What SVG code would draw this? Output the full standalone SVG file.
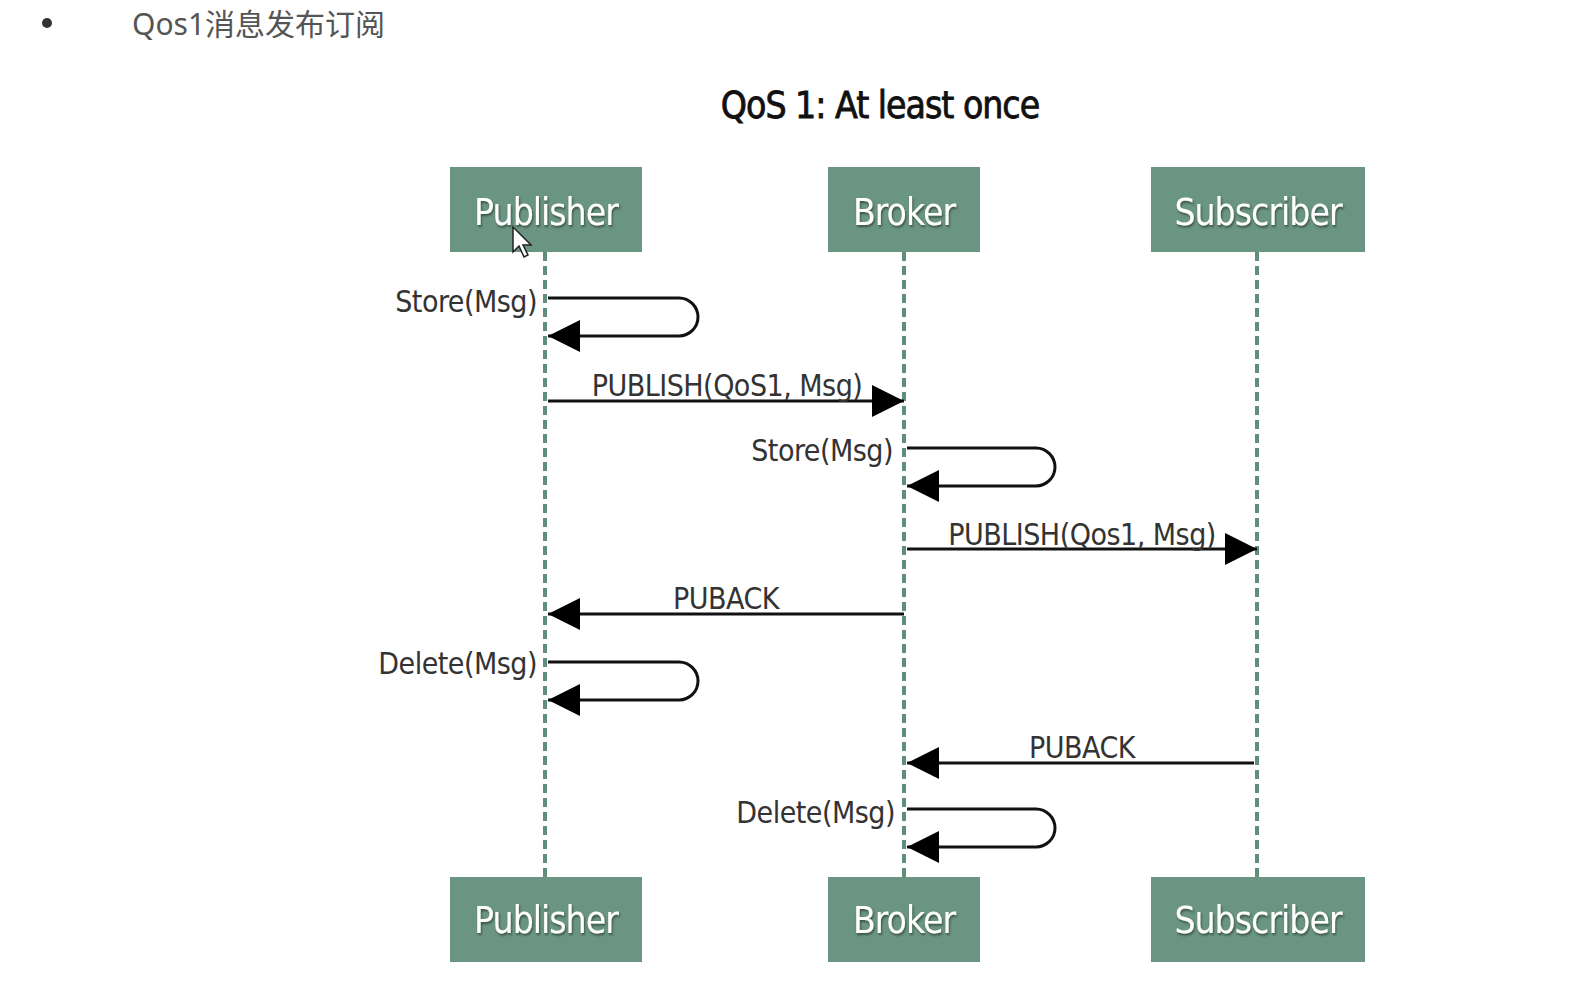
<svg xmlns="http://www.w3.org/2000/svg" width="1578" height="992" viewBox="0 0 1578 992">
<style>
.box{fill:#6a9582;}
.bt{font-family:"DejaVu Sans Condensed","DejaVu Sans",sans-serif;font-size:37px;fill:#ffffff;text-anchor:middle;letter-spacing:-1px;}
.life{stroke:#5f8f7c;stroke-width:4;stroke-dasharray:9 5;fill:none;}
.msg{stroke:#111;stroke-width:3;fill:none;}
.lbl{font-family:"DejaVu Sans Condensed","DejaVu Sans",sans-serif;font-size:30px;fill:#333;letter-spacing:-0.5px;}
</style>
<defs>
<marker id="ah" viewBox="0 0 32 32" refX="32" refY="16" markerWidth="32" markerHeight="32" markerUnits="userSpaceOnUse" orient="auto">
<path d="M0,0 L32,16 L0,32 Z" fill="#000"/>
</marker>
<filter id="sh" x="-10%" y="-10%" width="120%" height="130%">
<feDropShadow dx="1" dy="2" stdDeviation="1" flood-color="#000" flood-opacity="0.45"/>
</filter>
</defs>
<rect width="1578" height="992" fill="#ffffff"/>
<circle cx="47" cy="23" r="5" fill="#333"/>
<text x="132" y="35" font-family="'Noto Sans','Noto Sans CJK SC',sans-serif" font-size="30" fill="#555">Qos1消息发布订阅</text>
<text x="880" y="118" font-family="'DejaVu Sans Condensed','DejaVu Sans',sans-serif" font-size="37" fill="#111" text-anchor="middle" letter-spacing="-1" stroke="#111" stroke-width="0.8">QoS 1: At least once</text>
<g id="lifelines">
<line class="life" x1="545" y1="252" x2="545" y2="877"/>
<line class="life" x1="904" y1="252" x2="904" y2="877"/>
<line class="life" x1="1257" y1="252" x2="1257" y2="877"/>
</g>
<g id="publisher-top"><rect class="box" x="450" y="167" width="192" height="85"/><text class="bt" x="546" y="225" filter="url(#sh)">Publisher</text></g>
<g id="broker-top"><rect class="box" x="828" y="167" width="152" height="85"/><text class="bt" x="904" y="225" filter="url(#sh)">Broker</text></g>
<g id="subscriber-top"><rect class="box" x="1151" y="167" width="214" height="85"/><text class="bt" x="1258" y="225" filter="url(#sh)">Subscriber</text></g>
<g id="publisher-bottom"><rect class="box" x="450" y="877" width="192" height="85"/><text class="bt" x="546" y="933" filter="url(#sh)">Publisher</text></g>
<g id="broker-bottom"><rect class="box" x="828" y="877" width="152" height="85"/><text class="bt" x="904" y="933" filter="url(#sh)">Broker</text></g>
<g id="subscriber-bottom"><rect class="box" x="1151" y="877" width="214" height="85"/><text class="bt" x="1258" y="933" filter="url(#sh)">Subscriber</text></g>
<g id="connectors">
<path class="msg" d="M548,298 H679 A19,19 0 0 1 679,336 H548" marker-end="url(#ah)"/>
<line class="msg" x1="548" y1="401" x2="904" y2="401" marker-end="url(#ah)"/>
<path class="msg" d="M907,448 H1036 A19,19 0 0 1 1036,486 H907" marker-end="url(#ah)"/>
<line class="msg" x1="907" y1="549" x2="1257" y2="549" marker-end="url(#ah)"/>
<line class="msg" x1="904" y1="614" x2="548" y2="614" marker-end="url(#ah)"/>
<path class="msg" d="M548,662 H679 A19,19 0 0 1 679,700 H548" marker-end="url(#ah)"/>
<line class="msg" x1="1254" y1="763" x2="907" y2="763" marker-end="url(#ah)"/>
<path class="msg" d="M907,809 H1036 A19,19 0 0 1 1036,847 H907" marker-end="url(#ah)"/>
</g>
<g id="labels">
<text class="lbl" x="537" y="312" text-anchor="end">Store(Msg)</text>
<text class="lbl" x="727" y="396" text-anchor="middle">PUBLISH(QoS1, Msg)</text>
<text class="lbl" x="893" y="461" text-anchor="end">Store(Msg)</text>
<text class="lbl" x="1082" y="545" text-anchor="middle">PUBLISH(Qos1, Msg)</text>
<text class="lbl" x="726" y="609" text-anchor="middle">PUBACK</text>
<text class="lbl" x="537" y="674" text-anchor="end">Delete(Msg)</text>
<text class="lbl" x="1082" y="758" text-anchor="middle">PUBACK</text>
<text class="lbl" x="895" y="823" text-anchor="end">Delete(Msg)</text>
</g>
<path d="M513,227 L513,252 L519,246 L524,257 L528,255 L523,245 L531,245 Z" fill="#fff" stroke="#222" stroke-width="1.5"/>
</svg>
